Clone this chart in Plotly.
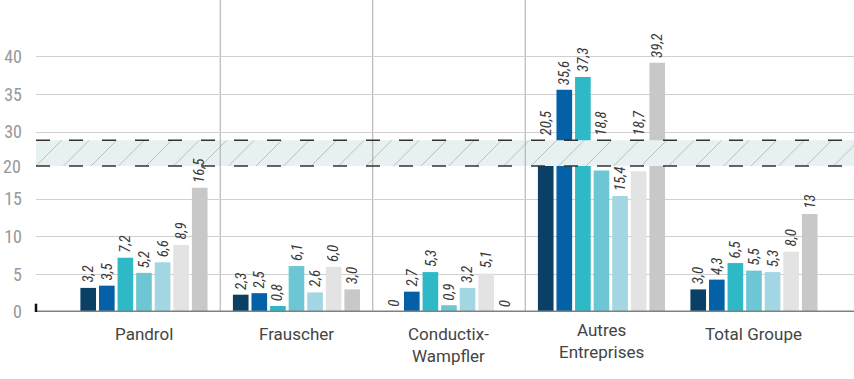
import plotly.graph_objects as go

# ---------------- data ----------------
categories = ["Pandrol", "Frauscher", "Conductix-Wampfler", "Autres Entreprises", "Total Groupe"]
category_labels = ["Pandrol", "Frauscher", "Conductix-<br>Wampfler", "Autres<br>Entreprises", "Total Groupe"]

series_names = ["Série 1", "Série 2", "Série 3", "Série 4", "Série 5", "Série 6", "Série 7"]
s1 = [3.2, 2.3, 0, 20.5, 3.0]
s2 = [3.5, 2.5, 2.7, 35.6, 4.3]
s3 = [7.2, 0.8, 5.3, 37.3, 6.5]
s4 = [5.2, 6.1, 0.9, 18.8, 5.5]
s5 = [6.6, 2.6, 3.2, 15.4, 5.3]
s6 = [8.9, 6.0, 5.1, 18.7, 8.0]
s7 = [16.5, 3.0, 0, 39.2, 13]
series_values = [s1, s2, s3, s4, s5, s6, s7]

l1 = ["3,2", "2,3", "0", "20,5", "3,0"]
l2 = ["3,5", "2,5", "2,7", "35,6", "4,3"]
l3 = ["7,2", "0,8", "5,3", "37,3", "6,5"]
l4 = ["5,2", "6,1", "0,9", "18,8", "5,5"]
l5 = ["6,6", "2,6", "3,2", "15,4", "5,3"]
l6 = ["8,9", "6,0", "5,1", "18,7", "8,0"]
l7 = ["16,5", "3,0", "0", "39,2", "13"]
series_labels = [l1, l2, l3, l4, l5, l6, l7]

lower_ticks = [0, 5, 10, 15]
upper_ticks = [30, 35, 40]
break_label = "20"

colors = ["#0a3f66", "#0461a8", "#2fb8c6", "#6cc6d4", "#a1d6e2", "#e3e3e3", "#c8c8c8"]

# ---------------- geometry ----------------
W, H = 854, 379
ML, MB, MT, MR = 36, 67, 0, 0
PH = H - MB - MT
PW = W - ML - MR
PXU = 7.53                     # pixels per unit
LOW_TOP_PX = 166.0             # from top of plot area
UP_BOT_PX = 140.3
low_dom_top = (PH - LOW_TOP_PX) / PH
up_dom_bot = (PH - UP_BOT_PX) / PH
low_range = [0, (PH - LOW_TOP_PX) / PXU]
up_bot_val = 30 - (UP_BOT_PX - 132.0) / PXU
up_range = [up_bot_val, up_bot_val + UP_BOT_PX / PXU]

CAT_PX = 152.5
x_left = -0.708
x_range = [x_left, x_left + PW / CAT_PX]
BARGAP = 0.147
SLOT_PX = (1 - BARGAP) * CAT_PX / 7

fig = go.Figure()
for i, (name, vals) in enumerate(zip(series_names, series_values)):
    fig.add_trace(go.Bar(x=categories, y=vals, name=name, marker_color=colors[i],
                         marker_line_width=0, xaxis="x", yaxis="y", showlegend=False,
                         hoverinfo="skip"))
    fig.add_trace(go.Bar(x=categories, y=vals, name=name, marker_color=colors[i],
                         marker_line_width=0, xaxis="x", yaxis="y2", showlegend=False,
                         hoverinfo="skip"))

label_font = dict(family="Liberation Sans Narrow, Roboto Condensed, Roboto", size=15, color="#3a3a3a")
annotations = []
for i, (vals, labs) in enumerate(zip(series_values, series_labels)):
    for j, (v, t) in enumerate(zip(vals, labs)):
        if v <= 17.5:
            ya, yv = "y", v
        else:
            ya, yv = "y2", max(v, up_range[0])
        annotations.append(dict(x=j, y=yv, xref="x", yref=ya, text="<i>" + t + "</i>",
                                textangle=-90, showarrow=False, xanchor="center",
                                yanchor="bottom", yshift=3, xshift=(i - 3) * SLOT_PX,
                                font=label_font))

cat_font = dict(family="Roboto", size=17, color="#444444")
cat_shift = {3: 4}
for j, lab in enumerate(category_labels):
    annotations.append(dict(x=j, y=0, xref="x", yref="paper", text=lab, showarrow=False,
                            xanchor="center", yanchor="top", yshift=-10 + cat_shift.get(j, 0),
                            font=cat_font, align="center"))

annotations.append(dict(x=0, y=low_range[1], xref="paper", yref="y", text=break_label,
                        showarrow=False, xanchor="right", yanchor="middle", xshift=-13,
                        font=dict(family="Liberation Sans Narrow, Roboto Condensed, Roboto",
                                  size=18, color="#999999")))

shapes = []
# hatch band
shapes.append(dict(type="rect", xref="paper", yref="paper", x0=0, x1=1,
                   y0=low_dom_top, y1=up_dom_bot, fillcolor="#e8f1f2",
                   line_width=0, layer="below"))
band_h_px = LOW_TOP_PX - UP_BOT_PX
k = 0
while True:
    x0px = k * 27.5
    if x0px > PW:
        break
    shapes.append(dict(type="line", xref="paper", yref="paper",
                       x0=x0px / PW, x1=(x0px + band_h_px) / PW,
                       y0=low_dom_top, y1=up_dom_bot,
                       line=dict(color="#b9c1c2", width=1), layer="below"))
    k += 1
for yy in (low_dom_top, up_dom_bot):
    shapes.append(dict(type="line", xref="paper", yref="paper", x0=0, x1=1, y0=yy, y1=yy,
                       line=dict(color="#333333", width=1.5, dash="14px,19px"), layer="above"))
# vertical separators
for sx in (0.5, 1.5, 2.5):
    shapes.append(dict(type="line", xref="x", yref="paper", x0=sx, x1=sx, y0=0, y1=1,
                       line=dict(color="#aaaaaa", width=1), layer="below"))
# zero line
shapes.append(dict(type="line", xref="paper", yref="y", x0=0, x1=1, y0=0, y1=0,
                   line=dict(color="#808080", width=3), layer="above"))
# small dark marker at the origin
shapes.append(dict(type="line", xref="paper", yref="y", x0=0, x1=0, y0=0, y1=1.1,
                   line=dict(color="#111111", width=2.5), layer="above"))

tick_font = dict(family="Liberation Sans Narrow, Roboto Condensed, Roboto", size=18, color="#999999")
fig.update_layout(
    width=W, height=H,
    margin=dict(l=ML, r=MR, t=MT, b=MB, pad=0),
    paper_bgcolor="white", plot_bgcolor="white",
    barmode="group", bargap=BARGAP, bargroupgap=0.158,
    xaxis=dict(range=x_range, showticklabels=False, showgrid=False, zeroline=False,
               ticks="", anchor="y", fixedrange=True),
    yaxis=dict(domain=[0, low_dom_top], range=low_range, tickvals=lower_ticks,
               showgrid=True, gridcolor="#cfcfcf", gridwidth=1, zeroline=False,
               tickfont=tick_font, ticks="", ticklabelstandoff=13, anchor="x"),
    yaxis2=dict(domain=[up_dom_bot, 1], range=up_range, tickvals=upper_ticks,
                showgrid=True, gridcolor="#cfcfcf", gridwidth=1, zeroline=False,
                tickfont=tick_font, ticks="", ticklabelstandoff=13, anchor="x"),
    annotations=annotations,
    shapes=shapes,
    showlegend=False,
)

fig.write_html("out.html")
